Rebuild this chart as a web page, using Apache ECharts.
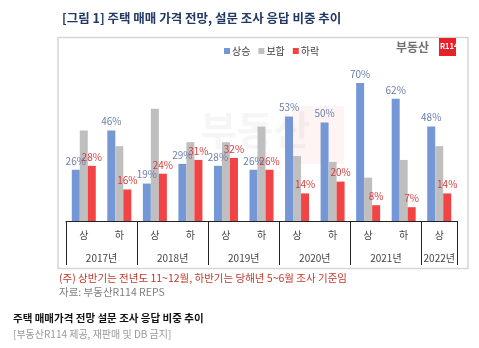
<!DOCTYPE html>
<html><head><meta charset="utf-8">
<script src="https://cdn.jsdelivr.net/npm/echarts@6/dist/echarts.min.js"></script>
<style>html,body{margin:0;padding:0;background:#fff}#c{width:479px;height:348px}</style>
</head><body><div id="c"></div>
<script>
const categories = ['상','하','상','하','상','하','상','하','상','하','상'];
const years = ['2017년','2018년','2019년','2020년','2021년','2022년'];
const yearSpans = [2,2,2,2,2,1];
const seriesNames = ['상승','보합','하락'];
const rise = [26,46,19,29,28,26,53,50,70,62,48];
const hold = [46,38,57,40,40,48,33,30,22,31,38];
const fall = [28,16,24,31,32,26,14,20,8,7,14];

const F = 'Noto Sans CJK KR';
// year boundaries and centers in category units
const bounds = [0]; const centers = [];
yearSpans.forEach(s => { const b = bounds[bounds.length-1]; centers.push(b + s/2); bounds.push(b + s); });

const chart = echarts.init(document.getElementById('c'), null, {renderer:'canvas'});
chart.setOption({
  backgroundColor:'#fff',
  animation:false,
  textStyle:{fontFamily:F},
  title:[
    {text:'[그림 1] 주택 매매 가격 전망, 설문 조사 응답 비중 추이', left:62, top:12, padding:0,
     textStyle:{fontFamily:F, fontSize:12.5, fontWeight:'bold', color:'#1f3864'}},
    {text:'(주) 상반기는 전년도 11~12월, 하반기는 당해년 5~6월 조사 기준임', left:59, top:273, padding:0,
     textStyle:{fontFamily:F, fontSize:10.5, fontWeight:'normal', color:'#c0392b'}},
    {text:'자료: 부동산R114 REPS', left:59, top:287, padding:0,
     textStyle:{fontFamily:F, fontSize:10.5, fontWeight:'normal', color:'#808080'}},
    {text:'주택 매매가격 전망 설문 조사 응답 비중 추이', left:13, top:313, padding:0,
     textStyle:{fontFamily:F, fontSize:10.5, fontWeight:'bold', color:'#111'}},
    {text:'[부동산R114 제공, 재판매 및 DB 금지]', left:13, top:329, padding:0,
     textStyle:{fontFamily:F, fontSize:10, fontWeight:'normal', color:'#999'}}
  ],
  legend:{data:seriesNames, left:219, top:41, icon:'rect', itemWidth:6, itemHeight:6, itemGap:8,
    textStyle:{fontFamily:F, fontSize:10, color:'#444', padding:[0,0,0,-3]}},
  grid:{left:66, right:22, top:63.4, bottom:127, containLabel:false},
  xAxis:[
    {type:'category', data:categories, position:'bottom',
     axisLine:{lineStyle:{color:'#222', width:1}},
     axisTick:{length:22, lineStyle:{color:'#222'}},
     axisLabel:{margin:9, fontSize:10, color:'#444', fontFamily:F}},
    {type:'value', min:0, max:categories.length, position:'bottom',
     axisLine:{show:false}, splitLine:{show:false},
     axisTick:{show:true, customValues:bounds, length:44, lineStyle:{color:'#222'}},
     axisLabel:{customValues:centers, margin:32, fontSize:10, color:'#444', fontFamily:F,
       formatter:function(v){ const i = centers.indexOf(v); return i>=0 ? years[i] : ''; }}}
  ],
  yAxis:{type:'value', min:0, max:80, show:false},
  series:[
    {name:seriesNames[0], type:'bar', data:rise, barWidth:8, barGap:'0%', itemStyle:{color:'#7597d6'},
     label:{show:true, position:'top', distance:4, formatter:'{c}%', fontSize:10, color:'#6b7fa8', fontFamily:F}},
    {name:seriesNames[1], type:'bar', data:hold, barWidth:8, barGap:'0%', itemStyle:{color:'#bfbfbf'}},
    {name:seriesNames[2], type:'bar', data:fall, barWidth:8, barGap:'0%', itemStyle:{color:'#f24444'},
     label:{show:true, position:'top', distance:4, formatter:'{c}%', fontSize:10, color:'#d43c3c', fontFamily:F}}
  ],
  graphic:[
    {type:'rect', shape:{x:58, y:37.5, width:410, height:231}, style:{fill:'none', stroke:'#d6d6d6', lineWidth:1.5}, z:-1},
    {type:'text', left:396, top:41, style:{text:'부동산', font:'bold 12px "Noto Sans CJK KR"', fill:'#707070'}},
    {type:'rect', shape:{x:439, y:38, width:17, height:18}, style:{fill:'#e8202a'}},
    {type:'text', left:440, top:42, style:{text:'R114', font:'bold 7.5px "Noto Sans CJK KR"', fill:'#fff'}},
    {type:'rect', shape:{x:292, y:106, width:52, height:58}, style:{fill:'rgba(240,60,60,0.06)'}, z:-1},
    {type:'text', left:200, top:110, z:-1, style:{text:'부동산', font:'bold 40px "Noto Sans CJK KR"', fill:'rgba(0,0,0,0.035)'}}
  ]
});
</script></body></html>
